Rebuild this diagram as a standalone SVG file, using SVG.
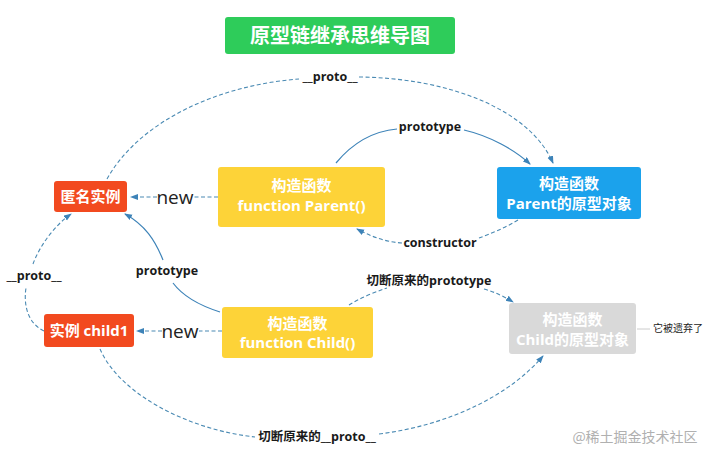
<svg xmlns="http://www.w3.org/2000/svg" width="717" height="458" viewBox="0 0 717 458">
<style>
.cjk{font-family:"Open Sans","Noto Sans CJK SC",sans-serif;font-weight:bold;}
.wt{fill:#fff;font-size:15px;text-anchor:middle;}
.lbl{fill:#1a1a1a;font-size:12.5px;text-anchor:middle;font-family:"Open Sans","Noto Sans CJK SC",sans-serif;font-weight:bold;}
.new{fill:#222;font-size:19px;text-anchor:middle;font-family:"Open Sans",sans-serif;}
.dash{fill:none;stroke:#4a8ab3;stroke-width:1.1;stroke-dasharray:4 2.5;}
.solid{fill:none;stroke:#3d83b8;stroke-width:1.2;}
</style>
<defs>
<marker id="ah" markerUnits="userSpaceOnUse" markerWidth="8" markerHeight="7" refX="7" refY="3" orient="auto">
<path d="M0,0 L8,3 L0,6 z" fill="#3d83b8"/>
</marker>
</defs>
<rect width="717" height="458" fill="#fff"/>
<g id="title">
<rect x="225" y="17" width="230" height="37" rx="3" fill="#2ecc5a"/>
<text x="340" y="43" class="cjk" fill="#fff" font-size="20" text-anchor="middle">原型链继承思维导图</text>
</g>
<g id="connectors">
<path class="dash" d="M218,197 L193,197"/>
<path class="dash" d="M157,197 L131,197" marker-end="url(#ah)"/>
<path class="dash" d="M222,331 L199,331"/>
<path class="dash" d="M162,331 L137,331" marker-end="url(#ah)"/>
<path class="dash" d="M107,179 C140,120 220,85 299,79"/>
<path class="dash" d="M359,77 C450,78 530,110 553,163" marker-end="url(#ah)"/>
<path class="solid" d="M336,163 C355,140 375,131 397,129"/>
<path class="solid" d="M464,130 C490,136 515,150 530,164" marker-end="url(#ah)"/>
<path class="dash" d="M518,220 C505,228 490,234 479,238"/>
<path class="dash" d="M402,243 C385,242 370,236 357,229" marker-end="url(#ah)"/>
<path class="dash" d="M44,331 C25,322 24,300 26,288"/>
<path class="dash" d="M33,264 C40,245 55,225 71,214" marker-end="url(#ah)"/>
<path class="solid" d="M220,312 C198,305 182,295 173,283"/>
<path class="solid" d="M163,260 C155,240 145,225 125,214" marker-end="url(#ah)"/>
<path class="dash" d="M349,305 C360,298 375,292 387,288"/>
<path class="dash" d="M484,289 C495,292 505,297 513,302" marker-end="url(#ah)"/>
<path class="dash" d="M100,349 C120,395 190,430 255,437"/>
<path class="dash" d="M379,434 C450,425 510,395 543,356" marker-end="url(#ah)"/>
<path d="M637,329 L650,329" stroke="#ccc" stroke-width="1" fill="none"/>
<text x="330" y="81" class="lbl">__proto__</text>
<text x="430" y="131" class="lbl">prototype</text>
<text x="440" y="247" class="lbl">constructor</text>
<text x="34" y="280" class="lbl">__proto__</text>
<text x="167" y="275" class="lbl">prototype</text>
<text x="429" y="285" class="lbl">切断原来的prototype</text>
<text x="317" y="441" class="lbl">切断原来的__proto__</text>
<text x="175" y="204" class="new">new</text>
<text x="180" y="338" class="new">new</text>
</g>
<g id="anon">
<rect x="54" y="181" width="73" height="31" rx="3" fill="#f24a1f"/>
<text x="90.5" y="202" class="cjk wt">匿名实例</text>
</g>
<g id="parent">
<rect x="218" y="167" width="167" height="60" rx="3" fill="#fdd338"/>
<text x="301.5" y="191" class="cjk wt">构造函数</text>
<text x="301.5" y="211" class="cjk wt">function Parent()</text>
</g>
<g id="parentProto">
<rect x="497" y="167" width="144" height="52" rx="3" fill="#1ba2ec"/>
<text x="569" y="189" class="cjk wt">构造函数</text>
<text x="569" y="209" class="cjk wt">Parent的原型对象</text>
</g>
<g id="child1">
<rect x="44" y="314" width="90" height="33" rx="3" fill="#f24a1f"/>
<text x="89" y="336" class="cjk wt">实例 child1</text>
</g>
<g id="child">
<rect x="222" y="307" width="151" height="51" rx="3" fill="#fdd338"/>
<text x="297.5" y="329" class="cjk wt">构造函数</text>
<text x="297.5" y="348" class="cjk wt">function Child()</text>
</g>
<g id="childProto">
<rect x="509" y="303" width="127" height="51" rx="3" fill="#d9d9d9"/>
<text x="572.5" y="325" class="cjk wt">构造函数</text>
<text x="572.5" y="345" class="cjk wt">Child的原型对象</text>
</g>
<g id="note">
<text x="678" y="332" font-family="'Noto Sans CJK SC',sans-serif" font-size="10" fill="#222" text-anchor="middle">它被遗弃了</text>
</g>
<g id="watermark">
<text x="635" y="442" font-family="'Noto Sans CJK SC',sans-serif" font-size="14" fill="#b0b0b0" text-anchor="middle">@稀土掘金技术社区</text>
</g>
</svg>
